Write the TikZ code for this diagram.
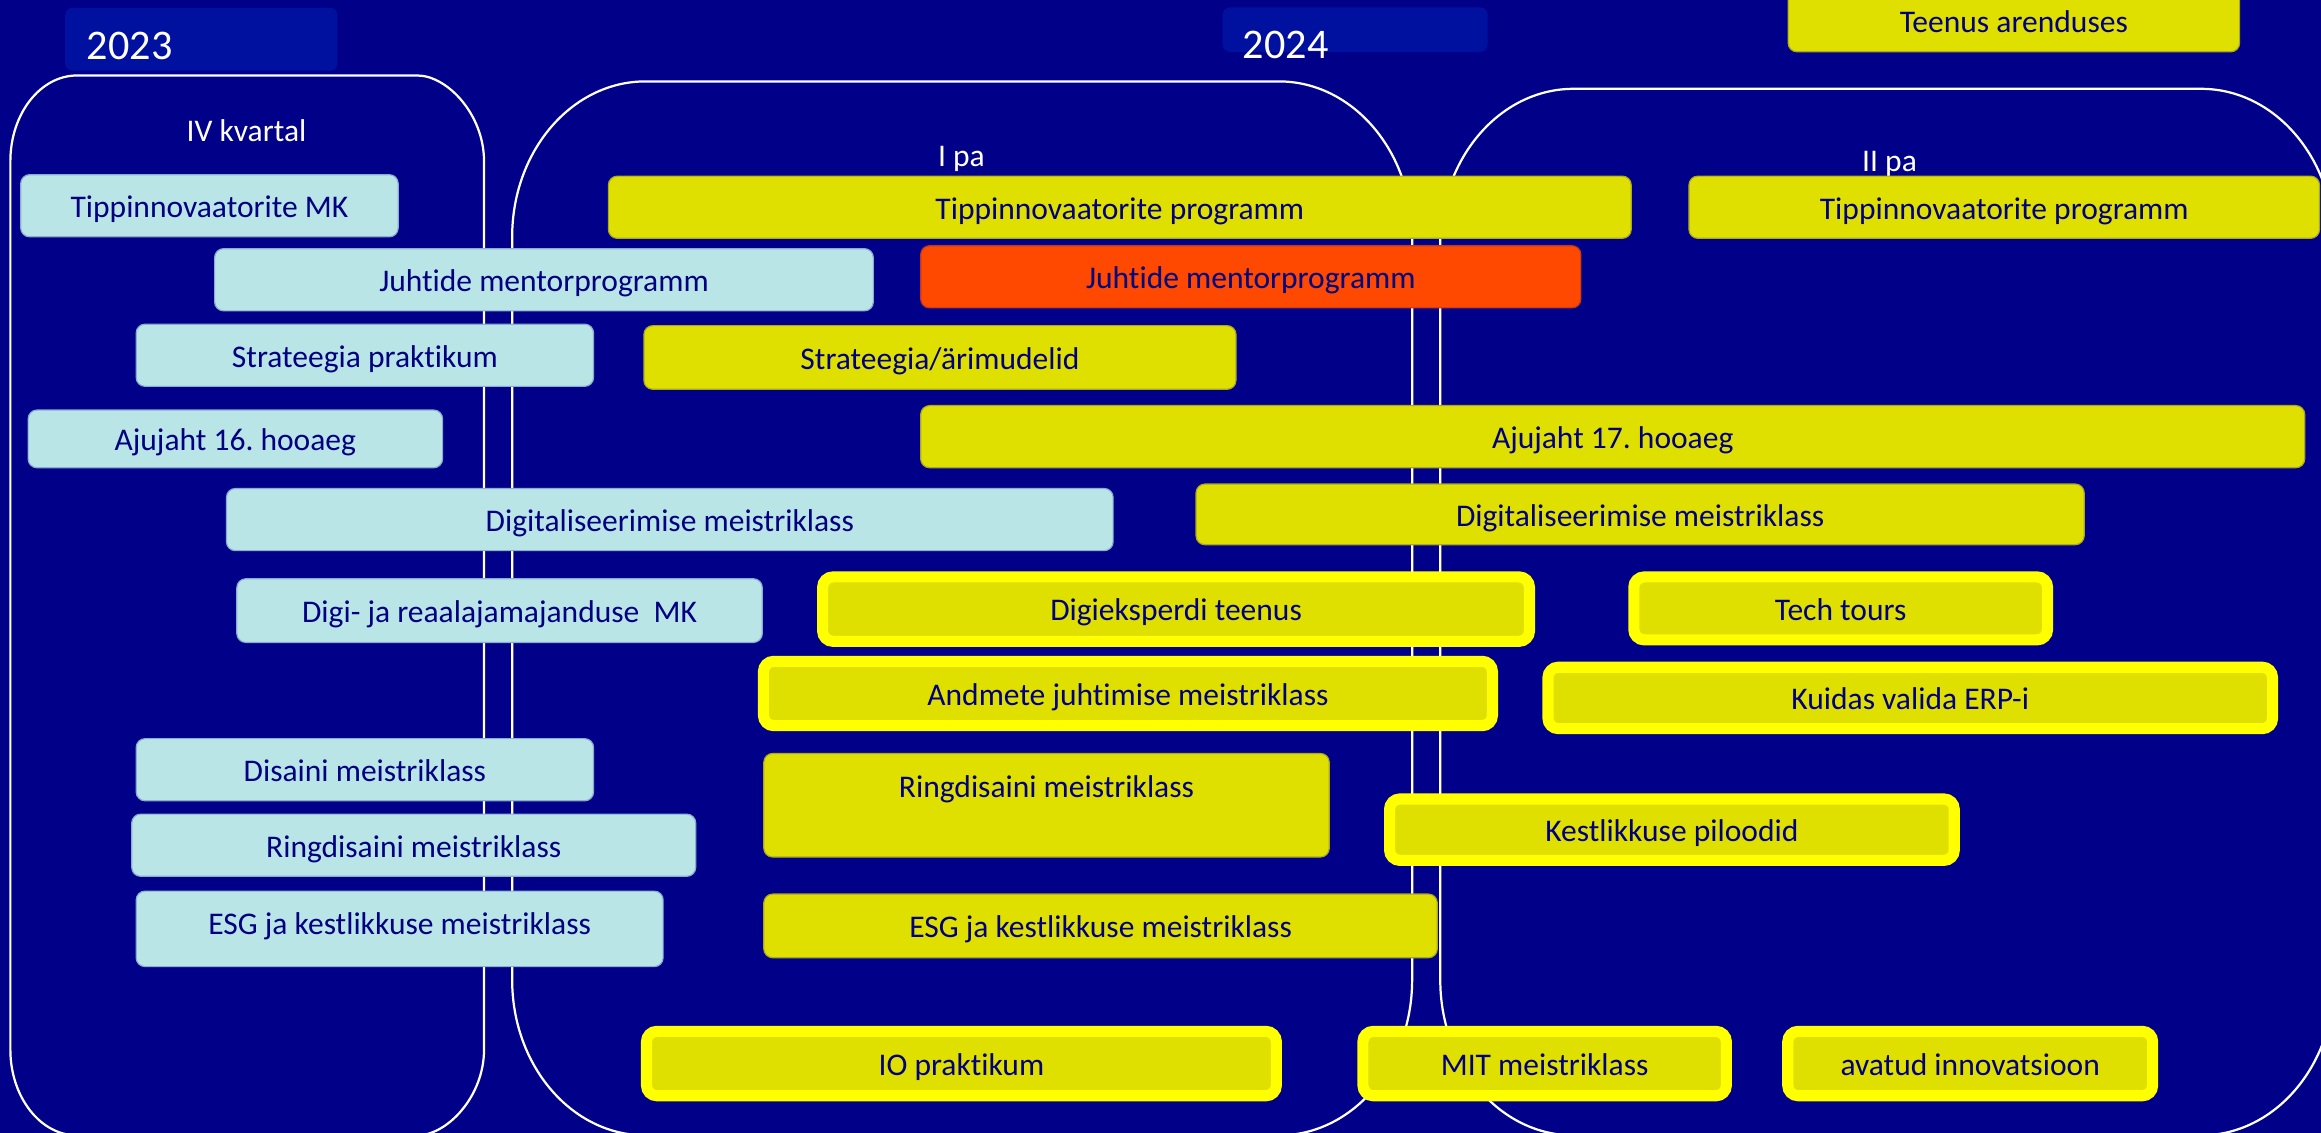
\documentclass[tikz,border=0pt]{standalone}
\usepackage{fontspec}
\setmainfont{Carlito}[Ligatures={NoCommon}]
\frenchspacing
\definecolor{bgcol}{RGB}{0,0,136}
\definecolor{txtcol}{RGB}{0,0,128}
\definecolor{yrcol}{RGB}{0,17,160}
\definecolor{lbcol}{RGB}{185,229,230}
\definecolor{ycol}{RGB}{224,224,0}
\definecolor{bycol}{RGB}{255,255,0}
\definecolor{ocol}{RGB}{255,72,0}
\newcommand{\boxfont}{\fontsize{21.3}{25}\selectfont}
\newcommand{\yearfont}{\fontsize{28.5}{33}\selectfont}
\tikzset{
  itembox/.style={rounded corners=6pt, inner sep=0pt, text height=16pt, text depth=0pt, font=\boxfont, text=txtcol},
  lbox/.style={itembox, fill=lbcol, draw=lbcol!75!bgcol, line width=0.8pt},
  ybox/.style={itembox, fill=ycol, draw=ycol!75!bgcol, line width=0.8pt},
  obox/.style={itembox, fill=ocol, draw=ocol!75!bgcol, line width=0.8pt},
  bbox/.style={itembox, fill=ycol, draw=bycol, line width=7.5pt, rounded corners=7pt},
  periodframe/.style={draw=white, line width=1.5pt},
  lbl/.style={text=white, font=\boxfont, inner sep=0pt, anchor=base},
  yearbox/.style={fill=yrcol, rounded corners=5pt, inner sep=0pt},
  yeartxt/.style={text=white, font=\yearfont, inner sep=0pt, anchor=base west},
}
\begin{document}
\begin{tikzpicture}[x=1pt,y=-1pt]
\useasboundingbox (0,0) rectangle (1568,765.4);
\fill[bgcol] (0,0) rectangle (1568,765.4);
\clip (0,0) rectangle (1568,765.4);

% year labels
\node[yearbox, minimum width=184pt, minimum height=42.5pt] (yb1) at (136,26.5) {};
\node[yeartxt] (y2023) at (58.5,40.5) {2023};
\node[yearbox, minimum width=179pt, minimum height=30pt] (yb2) at (915.5,20) {};
\node[yeartxt] (y2024) at (839.5,39.5) {2024};

% period frames
\draw[periodframe] (7,109) .. controls (7,76.97) and (27.15,51) .. (52,51)
  -- (282,51) .. controls (301.85,51) and (327,76.97) .. (327,109)
  -- (327,709) .. controls (327,741.03) and (301.85,767) .. (282,767)
  -- (52,767) .. controls (27.15,767) and (7,741.03) .. (7,709) -- cycle;
\draw[periodframe] (346,160) .. controls (346,102.01) and (386.29,55) .. (436,55)
  -- (864,55) .. controls (913.71,55) and (954,102.01) .. (954,160)
  -- (954,662) .. controls (954,719.99) and (913.71,767) .. (864,767)
  -- (436,767) .. controls (386.29,767) and (346,719.99) .. (346,662) -- cycle;
\draw[periodframe] (973,165) .. controls (973,107.01) and (1013.29,60) .. (1063,60)
  -- (1487,60) .. controls (1536.71,60) and (1577,107.01) .. (1577,165)
  -- (1577,662) .. controls (1577,719.99) and (1536.71,767) .. (1487,767)
  -- (1063,767) .. controls (1013.29,767) and (973,719.99) .. (973,662) -- cycle;

\node[lbl] (q4) at (166.5,95.7) {IV kvartal};
\node[lbl] (ipa) at (649.5,112.6) {I pa};
\node[lbl] (iipa) at (1276.5,116) {II pa};

% 2023 IV quarter
\node[lbox, minimum width=255pt, minimum height=42pt] (lb1) at (141.5,139) {Tippinnovaatorite MK};
\node[lbox, minimum width=445pt, minimum height=42pt] (lb2) at (367.5,189) {Juhtide mentorprogramm};
\node[lbox, minimum width=309pt, minimum height=42pt] (lb3) at (246.5,240) {Strateegia praktikum};
\node[lbox, minimum width=280pt, minimum height=39pt] (lb4) at (159,296.5) {Ajujaht 16. hooaeg};
\node[lbox, minimum width=599pt, minimum height=42pt] (lb5) at (452.5,351) {Digitaliseerimise meistriklass};
\node[lbox, minimum width=355pt, minimum height=43pt] (lb6) at (337.5,412.5) {Digi- ja reaalajamajanduse\ \ MK};
\node[lbox, minimum width=309pt, minimum height=42pt] (lb7) at (246.5,520) {Disaini meistriklass};
\node[lbox, minimum width=381pt, minimum height=42pt] (lb8) at (279.5,571) {Ringdisaini meistriklass};
\node[lbox, minimum width=356pt, minimum height=51pt, text depth=8pt] (lb9) at (270,627.5) {ESG ja kestlikkuse meistriklass};

% 2024
\node[ybox, minimum width=305pt, minimum height=42pt] (ya0) at (1360.5,14) {Teenus arenduses};
\node[ybox, minimum width=691pt, minimum height=42pt] (ya1) at (756.5,140) {Tippinnovaatorite programm};
\node[ybox, minimum width=426pt, minimum height=42pt] (ya2) at (1354,140) {Tippinnovaatorite programm};
\node[obox, minimum width=446pt, minimum height=42pt] (oa1) at (845,187) {Juhtide mentorprogramm};
\node[ybox, minimum width=400pt, minimum height=43pt] (ya3) at (635,241.5) {Strateegia/ärimudelid};
\node[ybox, minimum width=935pt, minimum height=42pt] (ya4) at (1089.5,295) {Ajujaht 17. hooaeg};
\node[ybox, minimum width=600pt, minimum height=41pt] (ya5) at (1108,347.5) {Digitaliseerimise meistriklass};
\node[bbox, minimum width=477.5pt, minimum height=43.5pt] (ba1) at (794.5,411.5) {Digieksperdi teenus};
\node[bbox, minimum width=279.5pt, minimum height=42.5pt] (ba2) at (1243.5,411) {Tech tours};
\node[bbox, minimum width=492.5pt, minimum height=43.5pt] (ba3) at (762,468.5) {Andmete juhtimise meistriklass};
\node[bbox, minimum width=489.5pt, minimum height=41.5pt] (ba4) at (1290.5,471.5) {Kuidas valida ERP-i};
\node[ybox, minimum width=382pt, minimum height=70pt, text depth=26pt] (ya6) at (707,544) {Ringdisaini meistriklass};
\node[bbox, minimum width=381.5pt, minimum height=41.5pt] (ba5) at (1129.5,560.5) {Kestlikkuse piloodid};
\node[ybox, minimum width=455pt, minimum height=43pt] (ya7) at (743.5,625.5) {ESG ja kestlikkuse meistriklass};
\node[bbox, minimum width=425.5pt, minimum height=43.5pt] (ba6) at (649.5,718.5) {IO praktikum};
\node[bbox, minimum width=245.5pt, minimum height=43.5pt] (ba7) at (1043.5,718.5) {MIT meistriklass};
\node[bbox, minimum width=246.5pt, minimum height=43.5pt] (ba8) at (1331,718.5) {avatud innovatsioon};
\end{tikzpicture}
\end{document}
